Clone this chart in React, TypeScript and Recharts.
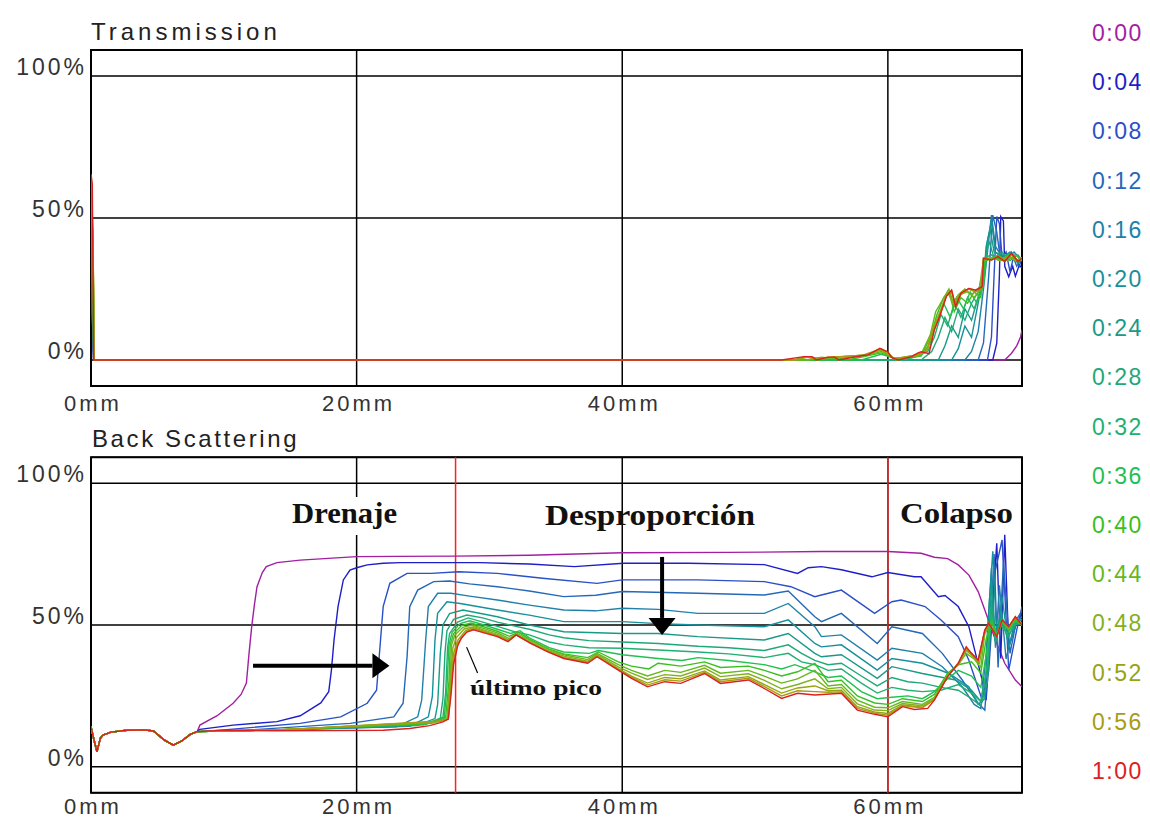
import React from 'react';
import { LineChart, Line, XAxis, YAxis, CartesianGrid, ReferenceLine, ReferenceArea } from 'recharts';

type P = [number, number];

const TIME_LABELS = ['0:00','0:04','0:08','0:12','0:16','0:20','0:24','0:28','0:32','0:36','0:40','0:44','0:48','0:52','0:56','1:00'];
const COLORS = ['#a21fa2','#1e1ec8','#2a50c8','#2468b8','#2080a8','#16909a','#189a88','#1ea878','#20b070','#22c050','#38c020','#66b81c','#84b020','#96a414','#a89c14','#dc2020'];
const X_TICKS = [0, 20, 40, 60];
const Y_TICKS = [0, 50, 100];
const X_DOMAIN: [number, number] = [0, 70.1];
const Y_DOMAIN: [number, number] = [-9.15, 109.15];
const RED_LINES = [27.45, 60];

// ---------- Transmission ----------
const TR_000: P[] = [[0,58],[0.1,20],[0.2,0],[68.8,0],[69.3,2.3],[69.7,5],[70.0,8.2],[70.1,10.6]];
const TR_004: P[] = [[0,60],[0.1,17],[0.2,0],[67.9,0],[68.2,5.9],[68.4,30],[68.5,50.5],[68.7,49],[68.8,33],[69.1,29.3],[69.4,33],[69.6,29.5],[69.9,33.5],[70.1,32.3]];
const TR_008: P[] = [[0,60],[0.1,16],[0.2,0],[67.5,0],[67.8,8],[68.0,30],[68.2,50.5],[68.4,48],[68.6,36],[68.9,38],[69.2,31],[69.5,37],[69.9,33],[70.1,36]];
const TR_012: P[] = [[0,61],[0.1,15],[0.2,0],[66.8,0],[67.2,6],[67.6,30],[67.9,51],[68.2,45],[68.4,38],[68.8,35],[69.3,38],[69.7,33],[70.1,36]];
const TR_016: P[] = [[0,61],[0.1,18],[0.2,0],[65.8,0],[66.3,3],[66.8,10],[67.2,25],[67.5,38],[67.8,51],[68.1,40],[68.5,37],[69.0,36],[69.5,38],[70.1,35]];
const TR_020: P[] = [[0,62],[0.12,20],[0.22,0],[64.8,0],[65.3,4],[65.8,12],[66.3,8],[66.8,20],[67.2,30],[67.5,42],[67.8,49],[68.1,38],[68.6,36],[69.2,38],[69.8,34],[70.1,36]];
const TR_024: P[] = [[0,62],[0.12,22],[0.22,0],[63.8,0],[64.3,5],[64.8,12],[65.3,8],[65.8,18],[66.3,14],[66.8,22],[67.2,28],[67.4,40],[67.7,46],[68.0,38],[68.6,37],[69.2,36],[69.8,35],[70.1,36]];
const TR_028: P[] = [[0,62],[0.12,25],[0.22,0],[62.5,0],[63.3,3],[63.8,8],[64.3,15],[64.8,10],[65.3,18],[65.8,14],[66.3,20],[66.8,24],[67.3,34],[67.6,42],[68.0,36],[68.6,38],[69.2,35],[69.8,37],[70.1,35]];
const TR_032: P[] = [[0,63],[0.12,28],[0.22,0],[61,0],[62,1],[63,3],[63.5,8],[64,16],[64.5,12],[65,20],[65.5,15],[66,22],[66.5,18],[67,25],[67.3,36],[67.8,37],[68.4,35],[69,37],[69.6,35],[70.1,36]];
const TR_036: P[] = [[0,63],[0.12,32],[0.22,0],[58,0],[59.5,2],[61,0],[62.5,1.5],[63.2,6],[63.7,14],[64.2,20],[64.7,15],[65.2,22],[65.7,18],[66.2,24],[66.7,20],[67.2,26],[67.4,35],[68,36.5],[68.6,35],[69.2,37.5],[69.8,34.5],[70.1,36]];
const TR_040: P[] = [[0,63],[0.15,36],[0.25,0],[55,0],[56,1],[57,0],[59.5,2.5],[60.5,0.5],[62.5,1.5],[63.2,8],[63.7,16],[64.2,22],[64.6,24],[65,17],[65.5,22],[66,20],[66.5,24],[67,22],[67.3,35],[67.9,36],[68.5,35.5],[69.1,36.5],[69.7,35],[70.1,35.5]];
const TR_044: P[] = [[0,64],[0.15,40],[0.25,0],[54,0],[55,1],[56,0.5],[58.3,1.5],[59.5,3],[60.5,0.5],[62.5,2],[63.2,9],[63.6,17],[64.1,21],[64.6,25],[65,19],[65.4,23],[66,24],[66.5,22],[67,25],[67.2,35],[67.8,35.5],[68.4,36.5],[69,35],[69.6,37],[70.1,35]];
const TR_048: P[] = [[0,64],[0.15,42],[0.25,0],[53,0],[54,1],[55,0.5],[56,1],[58.3,1.8],[59.5,3.5],[60.5,0.5],[62.3,1.5],[63,4],[63.5,12],[64,18],[64.5,24],[64.9,20],[65.3,23],[65.8,25],[66.3,23],[66.9,25.5],[67.2,35.5],[67.8,36],[68.4,35],[69,36.5],[69.6,35],[70.1,35.5]];
const TR_052: P[] = [[0,64],[0.15,43],[0.25,0],[53,0],[54,1.2],[55,0.5],[56,1],[58.3,1.8],[59.5,3.8],[60.5,0.5],[62.2,1.8],[62.9,3],[63.4,11],[63.9,16],[64.4,23],[64.8,24],[65.1,19],[65.5,23],[66.1,25],[66.6,24],[67.1,25.5],[67.2,35.8],[67.8,35.5],[68.3,36.5],[68.8,35],[69.3,37],[69.8,35],[70.1,36]];
const TR_056: P[] = [[0,65],[0.15,43],[0.25,0],[53,0],[53.7,1.2],[54.5,0.3],[55.5,1],[58,1.5],[59.5,4],[60,2.5],[60.6,0],[62.2,2],[62.9,3],[63.4,10.5],[63.9,15.5],[64.4,22.5],[64.8,24.5],[65.1,19],[65.5,23.5],[66.1,25.2],[66.6,24.6],[67.1,25.8],[67.2,35.8],[67.8,35.2],[68.3,36.4],[68.8,34.7],[69.3,37.6],[69.8,34.7],[70.1,35.8]];
const TR_100: P[] = [[0,65.5],[0.1,62],[0.2,0],[52,0],[53.7,1.2],[54.3,1.2],[54.6,0],[55.5,1],[56,1],[56.3,0],[58,1.5],[58.5,1.8],[59.4,4.1],[59.7,3.5],[60,2.9],[60.3,0.8],[60.8,0],[61.8,1.2],[62.2,2.3],[62.5,2.9],[63.1,2.2],[63.5,10.6],[63.9,15.3],[64.4,22.3],[64.8,24.6],[65.1,18.8],[65.5,23.5],[66.1,25.2],[66.6,24.6],[67.1,25.8],[67.2,35.8],[67.8,35.2],[68.3,36.4],[68.8,34.7],[69.3,37.6],[69.8,34.7],[70.1,35.8]];

// ---------- Back scattering ----------
const BS_BASE: P[] = [[0,14.1],[0.25,9],[0.45,5.3],[0.7,10],[0.9,11.2],[1.5,12.2],[2.7,12.9],[4.0,13.0],[4.7,12.6],[5.5,9.5],[6.2,7.6],[6.8,9],[7.5,11.5],[8.0,12.4]];
const BS_000: P[] = [[8.2,14.7],[9.5,18],[10.7,22.4],[11.3,25.5],[11.7,29.5],[11.9,40],[12.1,49.4],[12.3,57],[12.5,63.5],[12.9,68.5],[13.2,70.6],[14.0,72],[15.75,72.9],[20,74.1],[23,74.2],[27.4,74.3],[33,74.6],[40,75.5],[48,75.6],[55,75.9],[60,75.9],[62.5,75.3],[63.5,73.9],[64.5,73.4],[65.3,71.2],[66.1,67.6],[66.8,61.8],[67.3,55.3],[68.1,44.7],[68.8,36.5],[69.6,30.6],[70.1,28.2]];
const BS_004: P[] = [[8.2,13.2],[10.7,14.7],[14.0,15.9],[15.75,18.0],[17.3,22.5],[17.9,26.5],[18.1,34],[18.3,44.7],[18.6,56.5],[19.0,65.9],[19.5,69.4],[20.0,70.2],[20.8,71.2],[22.0,71.8],[23.3,72],[29.3,72],[33,71.5],[36.4,70.6],[40.1,71.8],[45,71.8],[50.7,71.3],[53.2,68.2],[54.0,70.2],[55.0,70.6],[56.5,69.5],[58.8,67],[60,68.5],[62.0,67],[62.5,67],[63.8,60],[64.3,60.4],[65.3,56.5],[66.1,49.4],[66.6,40],[67.1,30.6],[67.4,23.5],[67.8,51.8],[68.2,78.8],[68.5,38.2],[68.8,81.8],[69.1,42.3],[69.6,49.4],[70.1,54.1]];
const BS_008: P[] = [[10,13.0],[15.75,15.3],[18.8,17.6],[20.8,22.4],[21.5,27],[21.8,44.7],[22.0,56.5],[22.5,64.7],[23.8,68.2],[25.6,68.2],[27.7,68.8],[30.6,68.2],[34,66.5],[38.1,64.7],[40,65.9],[45.7,65.9],[50.7,65.3],[52.7,63.5],[54.5,60],[55,60.6],[56.5,62.3],[59,54.1],[60.3,58.2],[61.0,58.8],[62.8,56.5],[64.0,51.8],[65.3,45.9],[66.1,37.6],[66.6,30.6],[67.1,23.5],[67.6,34.1],[68.1,69.4],[68.6,80],[69.1,34.1],[69.7,48.2],[70.1,56.5]];
const BS_012: P[] = [[12,13.0],[19.5,15.3],[22.8,17.6],[23.5,22.4],[23.8,38.8],[24.0,56.5],[24.6,62.3],[25.8,65.3],[27.0,65.5],[28.5,64.5],[30.6,63.5],[33,62],[35.6,60],[38,60.5],[40,61.8],[45.7,61.2],[50.7,60.6],[52.5,62],[54.5,52.9],[55,51.2],[56.5,54.1],[59.2,43.5],[60.3,49.4],[62.6,47],[64.1,40],[65.6,30.6],[66.8,22.4],[67.3,20],[67.7,45],[68.0,75],[68.3,35],[68.7,72],[69.2,40],[69.7,52],[70.1,55]];
const BS_016: P[] = [[14,13.0],[23,14.1],[24.6,17.6],[24.9,23.5],[25.2,44.7],[25.4,56.5],[26.1,61.2],[27.1,61.2],[28.5,60.2],[30.6,58.8],[33,57],[35.6,55.3],[38,55],[40,55.9],[42.7,55.5],[45.7,54.1],[50.7,54.1],[52.5,57.6],[54.5,49.4],[55,45.9],[56.5,46.5],[59.2,37.6],[60.3,41.8],[62.6,40],[64.1,35.3],[65.6,28.2],[66.5,22],[67.0,20.5],[67.4,40],[67.8,70],[68.1,42],[68.4,64],[68.9,38],[69.5,50],[70.1,53]];
const BS_020: P[] = [[14,13.0],[24,14.3],[25.4,17.6],[25.7,24.7],[25.9,44.7],[26.1,54.1],[26.8,58.2],[27.8,57.6],[30.6,55.3],[33,53.5],[35.6,51.2],[40,51.2],[42.7,50.5],[45.7,50],[50.7,49.4],[52.5,51.8],[54.5,43.5],[55,42.3],[56.5,43],[59.2,34.1],[60.3,38.2],[62.6,36.5],[64.6,32.9],[66.1,28.2],[66.8,22],[67.3,24],[67.6,55],[67.9,76],[68.2,45],[68.6,60],[69.1,42],[69.6,50],[70.1,52]];
const BS_024: P[] = [[14,13.0],[24.5,14.5],[25.9,17],[26.1,22],[26.3,40],[26.5,50],[27.0,54],[28.0,55.3],[30.6,52.9],[33,50],[35.6,47.6],[40,47],[42.7,47],[45.7,45.9],[50.7,44.7],[52.5,47],[54.5,40],[55,38.8],[56.5,39.5],[59.2,31.2],[60.3,35.3],[62.6,32.9],[65.1,30.6],[66.3,27],[67.0,23],[67.5,35],[67.8,65],[68.1,44],[68.5,55],[69.0,45],[69.6,51],[70.1,52]];
const BS_028: P[] = [[14,13.0],[25,14.8],[26.3,17],[26.5,24],[26.65,40],[26.8,48],[27.3,52],[28.3,53.5],[29.5,52.5],[30.6,51],[32,49.5],[33,48.5],[34.5,46.5],[35.6,45.5],[37.5,44.5],[40,44],[42.7,43.5],[45.7,42.5],[48,42],[50.7,41],[52.5,43],[53.5,40],[54.5,37.5],[55.5,36],[56.5,36.5],[58,32],[59.2,28.5],[60.3,31.5],[61.5,30],[62.6,29.5],[64,28],[65.3,27],[66.3,24],[67,21.5],[67.5,30],[67.8,58],[68.1,44],[68.5,52],[69,46],[69.6,50],[70.1,51]];
const BS_032: P[] = [[14,13.0],[25.2,15],[26.5,17.5],[26.7,26],[26.85,42],[27.0,47],[27.6,51],[28.4,52.5],[29.5,51],[30.6,49.5],[32,47.5],[33,46.5],[34.5,44],[35.6,43],[37.5,42],[40,41.8],[42.7,41.2],[45.7,40.5],[48,39.8],[50.7,38.5],[52.5,40],[53.5,37],[54.5,36],[55.5,34],[56.5,34.5],[58,29.5],[59.2,26],[60.3,28],[61.5,27],[62.6,26.5],[64,27],[65.3,29],[66.3,26],[67,23],[67.5,36],[67.8,54],[68.1,46],[68.5,50],[69,47],[69.6,51],[70.1,50]];
const BS_036: P[] = [[14,13.0],[25.4,15.2],[26.6,17.5],[26.8,28],[26.95,43],[27.2,47.5],[27.8,50.5],[28.5,51.5],[29.6,50],[30.6,48.5],[31.6,47],[32.3,48],[33,45.5],[34.5,42],[35.6,40.5],[37.5,40],[38.2,41],[40,39.5],[42.7,38.2],[44.5,37.5],[45.7,38.5],[48,37.5],[50.7,36],[52,34.5],[53,36],[54.5,33.5],[55.5,31.5],[56.5,32],[58,26.5],[59.2,24],[60.3,24.5],[61.5,25],[62.6,24],[63.5,26.5],[64.5,31],[65.3,34],[66.3,32],[67,28],[67.5,42],[67.8,52],[68.2,47],[68.6,51],[69.1,48],[69.6,51.5],[70.1,50]];
const BS_040: P[] = [[14,13.0],[25.6,15.3],[26.7,17.3],[26.95,30],[27.05,43],[27.3,47],[27.9,49.8],[28.6,50.7],[29.6,49.3],[30.6,47.8],[31.5,46],[32.2,47.5],[33,45],[34.5,41.5],[35.6,39.8],[37.4,38.5],[38.2,40.5],[39.7,37],[40.7,35.5],[42,34.5],[42.7,36.5],[44.4,35.5],[46.2,37],[47.4,35],[49.5,35.5],[50.7,34],[52,32],[53.2,33.5],[54.5,36.5],[55.5,30],[56.5,30.5],[57.7,25],[59,22.5],[60,22],[61.1,24],[62.6,23],[63.5,25.5],[64.5,33],[65.3,36],[66.3,37],[67,33],[67.4,45],[67.8,51],[68.2,46.5],[68.6,51],[69.1,48.5],[69.6,52],[70.1,50]];
const BS_044: P[] = [[14,13.0],[25.8,15.5],[26.8,17],[27.05,32],[27.15,43],[27.4,46.5],[28,49.2],[28.7,50],[29.6,48.7],[30.6,47.2],[31.5,45.2],[32.1,47],[33.1,44.5],[34.4,41.5],[35.6,39.5],[37.4,37.8],[38.1,40],[39.7,36],[40.7,34],[41.9,32],[43.2,34],[44.4,33.3],[46.2,35.8],[47.4,33],[49.5,34],[50.7,32],[52,29.5],[53.2,31],[54.5,34],[55.5,28.5],[56.5,29],[57.7,23.5],[59,21],[60,20.8],[61.1,23],[62.6,22],[63.5,24.5],[64.5,32.5],[65.3,36],[65.9,40],[66.5,38],[67,35],[67.3,47],[67.7,50],[68.2,46],[68.6,51.5],[69.1,48.5],[69.6,52.5],[70.1,50]];
const BS_048: P[] = [[14,13.0],[26,15.8],[26.85,16.8],[27.1,33],[27.25,42],[27.5,45.5],[28.1,48.6],[28.8,49.4],[29.6,48.2],[30.6,46.7],[31.4,44.8],[32,46.8],[33.1,44],[34.4,41],[35.6,39],[37.4,37.2],[38.1,39.6],[39.7,35.2],[40.7,33],[41.9,30.8],[43.2,32.5],[44.4,32],[46.2,34.8],[47.4,31.8],[49.5,32.8],[50.7,30.5],[52,27.5],[53.2,29],[54.5,31],[55.5,27.5],[56.5,28],[57.7,22.2],[59,20],[60,19.8],[61.1,22.3],[62.6,21.5],[63.5,24],[64.5,32.2],[65.3,36.2],[65.9,41],[66.4,39],[66.9,36.5],[67.3,47.5],[67.6,50.5],[68.2,46],[68.6,51.5],[69.1,49],[69.6,52.7],[70.1,50]];
const BS_052: P[] = [[14,13.0],[26.2,16],[26.9,16.8],[27.1,30],[27.3,40],[27.6,44.5],[28.2,48],[28.8,49],[29.6,47.8],[30.6,46.3],[31.4,44.5],[32,46.6],[33.1,43.8],[34.4,40.8],[35.6,38.6],[37.4,36.9],[38.1,39.2],[39.7,34.6],[40.7,32],[41.9,29.5],[43.2,31.5],[44.4,31],[46.2,33.8],[47.4,30.6],[49.5,31.8],[50.7,29],[52,26],[53.2,27.8],[54.5,28.5],[55.5,26.8],[56.5,27],[57.7,21.2],[59,19.3],[60,18.8],[61.1,21.8],[62.6,21],[63.5,23.8],[64.5,32],[65.3,36.4],[65.9,41.6],[66.3,39.5],[66.8,37],[67.3,48],[67.6,50.6],[68.2,46],[68.6,51.7],[69.1,49.2],[69.6,52.8],[70.1,50]];
const BS_056: P[] = [[14,12.9],[26.4,16.2],[26.9,16.8],[27.1,27],[27.3,38],[27.6,43.5],[28.3,47.8],[28.8,48.7],[29.6,47.5],[30.6,46.1],[31.4,44.3],[32,46.5],[33.1,43.7],[34.4,40.6],[35.6,38.4],[37.4,36.7],[38.1,39],[39.7,34.3],[40.7,31.6],[41.9,28.8],[43.2,30.7],[44.4,30.2],[46.2,33.3],[47.4,30],[49.5,31.2],[50.7,28.3],[52,25],[53.2,26.8],[54.5,26.5],[55.5,26.3],[56.5,26.4],[57.7,20.6],[59,18.9],[60,18.2],[61.1,21.5],[62.6,20.8],[63.5,23.6],[64.5,31.9],[65.3,36.5],[65.9,42],[66.3,40],[66.8,37.6],[67.3,48.2],[67.6,50.6],[68.2,46],[68.6,51.8],[69.1,49.4],[69.6,52.9],[70.1,50]];
const BS_100: P[] = [[10,12.9],[14,12.7],[18,12.8],[22,12.9],[24,13.5],[25.5,14.5],[26.5,15.8],[26.9,16.8],[27.1,25],[27.3,36],[27.6,42.5],[27.9,45.5],[28.3,47.5],[28.8,48.3],[29.6,47.2],[30.6,45.9],[31.4,44.1],[32.0,46.5],[33.1,43.5],[34.4,40.5],[35.6,38.2],[37.4,36.5],[38.1,38.8],[39.7,34.1],[40.7,31.2],[41.9,28.2],[43.2,30],[44.4,29.4],[46.2,32.9],[47.4,29.4],[49.5,30.6],[50.7,27.6],[52,24.1],[53.2,25.9],[54.5,25.3],[56.5,25.9],[57.7,20],[59,18.5],[60,17.6],[61.1,21.2],[62.0,20.2],[63.0,20.6],[63.5,23.5],[64.5,31.8],[65.3,36.5],[65.9,42.3],[66.3,40],[66.8,37.6],[67.3,48.2],[67.6,50.6],[68.2,45.9],[68.6,51.8],[69.1,49.4],[69.6,52.9],[70.1,50]];

const TR_SERIES: P[][] = [TR_000,TR_004,TR_008,TR_012,TR_016,TR_020,TR_024,TR_028,TR_032,TR_036,TR_040,TR_044,TR_048,TR_052,TR_056,TR_100];
const BS_SERIES: P[][] = [BS_000,BS_004,BS_008,BS_012,BS_016,BS_020,BS_024,BS_028,BS_032,BS_036,BS_040,BS_044,BS_048,BS_052,BS_056,BS_100].map((s) => [...BS_BASE, ...s]);

const toPts = (arr: P[]) => arr.map(([x, y]) => ({ x, y }));

const PIX_FONT = '"Liberation Sans", Arial, sans-serif';
const SERIF = '"Liberation Serif", "Times New Roman", serif';

const YTick = (p: any) => (
  <text x={p.x + 4} y={p.y - 9} textAnchor="end" dominantBaseline="central" fontFamily={PIX_FONT} fontSize={23} letterSpacing={3} fill="#333">
    {p.payload.value}%
  </text>
);
const makeXTick = (dy: number) => (p: any) => (
  <text x={p.x + 2} y={p.y + dy} textAnchor="middle" dominantBaseline="central" fontFamily={PIX_FONT} fontSize={22} letterSpacing={3} fill="#333">
    {p.payload.value}mm
  </text>
);

const arrowShape = (head: number, half: number) => (p: any) => {
  const { x1, y1, x2, y2 } = p;
  const dx = x2 - x1, dy = y2 - y1;
  const L = Math.hypot(dx, dy) || 1;
  const ux = dx / L, uy = dy / L;
  const bx = x2 - ux * head, by = y2 - uy * head;
  const nx = -uy, ny = ux;
  return (
    <g>
      <line x1={x1} y1={y1} x2={bx} y2={by} stroke="#000" strokeWidth={4} />
      <polygon points={`${x2},${y2} ${bx + nx * half},${by + ny * half} ${bx - nx * half},${by - ny * half}`} fill="#000" />
    </g>
  );
};

const Panel = ({ series, height, top, xAxisHeight, bottom, tickDy, extras }: any) => (
  <LineChart width={1150} height={height} margin={{ top, right: 128, bottom, left: 11 }}>
    <CartesianGrid stroke="#000" strokeWidth={1.5} horizontal vertical />
    <XAxis type="number" dataKey="x" domain={X_DOMAIN} ticks={X_TICKS} allowDataOverflow axisLine={false} tickLine={false} tick={makeXTick(tickDy)} height={xAxisHeight} interval={0} />
    <YAxis type="number" domain={Y_DOMAIN} ticks={Y_TICKS} allowDataOverflow axisLine={false} tickLine={false} tick={YTick} width={80} interval={0} />
    {extras && extras.before}
    {series.map((s: P[], i: number) => (
      <Line key={i} data={toPts(s)} dataKey="y" type="linear" stroke={COLORS[i]} strokeWidth={1.4} dot={false} isAnimationActive={false} />
    ))}
    <ReferenceArea x1={X_DOMAIN[0]} x2={X_DOMAIN[1]} y1={Y_DOMAIN[0]} y2={Y_DOMAIN[1]} fill="none" stroke="#000" strokeWidth={2} ifOverflow="visible" />
    {extras && extras.after}
  </LineChart>
);

export default function App() {
  const bsBefore = RED_LINES.map((x) => (
    <ReferenceLine key={'r' + x} x={x} stroke="#ff2020" strokeWidth={1.5} ifOverflow="visible" />
  ));
  const bsAfter = [
    <ReferenceLine key="a1" segment={[{ x: 12.2, y: 35.6 }, { x: 22.47, y: 35.6 }]} shape={arrowShape(17, 12.5)} ifOverflow="visible" />,
    <ReferenceLine key="a2" segment={[{ x: 43.0, y: 74.0 }, { x: 43.0, y: 46.5 }]} shape={arrowShape(17, 13.5)} ifOverflow="visible" />,
    <ReferenceLine key="a3" segment={[{ x: 28.28, y: 42.2 }, { x: 29.11, y: 33.1 }]} stroke="#000" strokeWidth={1.2} ifOverflow="visible" />,
  ];
  return (
    <div style={{ position: 'absolute', left: 0, top: 0, width: 1150, height: 821, background: '#fff', overflow: 'hidden' }}>
      <div style={{ position: 'absolute', left: 0, top: 0 }}>
        <Panel series={TR_SERIES} height={420} top={50} xAxisHeight={30} bottom={4} tickDy={9} />
      </div>
      <div style={{ position: 'absolute', left: 0, top: 420 }}>
        <Panel series={BS_SERIES} height={401} top={37.3} xAxisHeight={24.3} bottom={4} tickDy={6} extras={{ before: bsBefore, after: bsAfter }} />
      </div>
      <svg width={1150} height={821} style={{ position: 'absolute', left: 0, top: 0, pointerEvents: 'none' }}>
        <text x={91} y={40} fontFamily={PIX_FONT} fontSize={24} letterSpacing={4} fill="#222">Transmission</text>
        <text x={92} y={447} fontFamily={PIX_FONT} fontSize={24} letterSpacing={2.6} fill="#222">Back Scattering</text>
        <rect x={287} y={497} width={115} height={38} fill="#fff" />
        <text x={292} y={523} fontFamily={SERIF} fontSize={30} fontWeight="bold" fill="#111" textLength={105} lengthAdjust="spacingAndGlyphs">Drenaje</text>
        <text x={545} y={525} fontFamily={SERIF} fontSize={30} fontWeight="bold" fill="#111" textLength={210} lengthAdjust="spacingAndGlyphs">Desproporción</text>
        <text x={900} y={523} fontFamily={SERIF} fontSize={30} fontWeight="bold" fill="#111" textLength={113} lengthAdjust="spacingAndGlyphs">Colapso</text>
        <text x={470} y={695} fontFamily={SERIF} fontSize={21} fontWeight="bold" fill="#111" textLength={132} lengthAdjust="spacingAndGlyphs">último pico</text>
        {TIME_LABELS.map((t, i) => (
          <text key={t} x={1092} y={41 + i * 49.2} fontFamily={PIX_FONT} fontSize={23} letterSpacing={1.5} fill={COLORS[i]}>{t}</text>
        ))}
      </svg>
    </div>
  );
}
